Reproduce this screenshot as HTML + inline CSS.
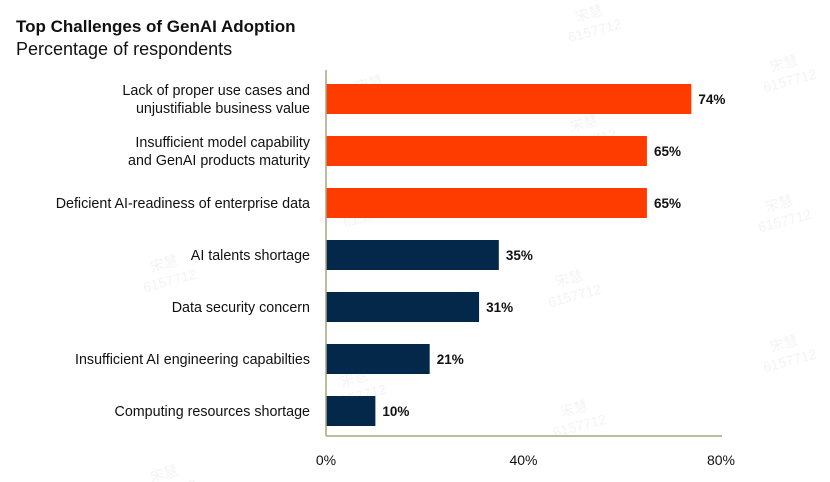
<!DOCTYPE html>
<html><head><meta charset="utf-8"><style>
body{margin:0;background:#fff;}
svg{display:block;font-family:"Liberation Sans","Noto Sans CJK SC",sans-serif;}
</style></head><body>
<svg id="chart" width="830" height="482" viewBox="0 0 830 482">
<text x="16" y="32" font-size="17" font-weight="bold" fill="#111">Top Challenges of GenAI Adoption</text>
<text x="16" y="55" font-size="18" fill="#111">Percentage of respondents</text>
<g id="wm" fill="#f3f3f3" font-size="14"></g>
<g id="bars"></g>
<line x1="326" y1="70" x2="326" y2="436" stroke="#a8a67f" stroke-width="1.5"/>
<line x1="326" y1="436" x2="722" y2="436" stroke="#a8a67f" stroke-width="1.5"/>
<g id="ticks"></g>
</svg>
<script>
const categories=[["Lack of proper use cases and","unjustifiable business value"],["Insufficient model capability","and GenAI products maturity"],["Deficient AI-readiness of enterprise data"],["AI talents shortage"],["Data security concern"],["Insufficient AI engineering capabilties"],["Computing resources shortage"]];
const values=[74,65,65,35,31,21,10];
const highlight=[true,true,true,false,false,false,false];
const tickValues=[0,40,80];
const tickLabels=["0%","40%","80%"];
const NS="http://www.w3.org/2000/svg";
const x=v=>326+v*(395/80);
const yTop=i=>84+i*52;
const bh=30;
function mk(tag,attrs,parent){const e=document.createElementNS(NS,tag);for(const k in attrs)e.setAttribute(k,attrs[k]);parent.appendChild(e);return e;}
const bars=document.getElementById('bars');
values.forEach((v,i)=>{
  const r=mk('rect',{x:326,y:yTop(i),width:x(v)-326,height:bh,fill:highlight[i]?'#ff3c00':'#04284a'},bars);
  
  
  const t=mk('text',{x:x(v)+7,y:yTop(i)+20,'font-size':13.5,'font-weight':'bold',fill:'#111'},bars);
  t.textContent=v+'%';
  
  
  const lines=categories[i];
  const cy=yTop(i)+bh/2;
  lines.forEach((ln,j)=>{
    const lt=mk('text',{x:310,y:cy+5+(j-(lines.length-1)/2)*18,'font-size':14.3,fill:'#111','text-anchor':'end'},bars);
    lt.textContent=ln;
    
    
  });
});
const ticks=document.getElementById('ticks');
tickValues.forEach((v,i)=>{
  const t=mk('text',{x:x(v),y:465,'font-size':14,fill:'#111','text-anchor':'middle'},ticks);
  t.textContent=tickLabels[i];
  
  
});
const wm=document.getElementById('wm');
[[565,25],[760,75],[345,95],[560,135],[340,210],[755,215],[140,275],[545,290],[760,355],[330,390],[550,420],[140,485]].forEach(p=>{
  const g=mk('g',{transform:`translate(${p[0]},${p[1]}) rotate(-15)`},wm);
  mk('text',{x:12,y:0},g).textContent='宋慧';
  mk('text',{x:0,y:18},g).textContent='6157712';
});
</script>
</body></html>
